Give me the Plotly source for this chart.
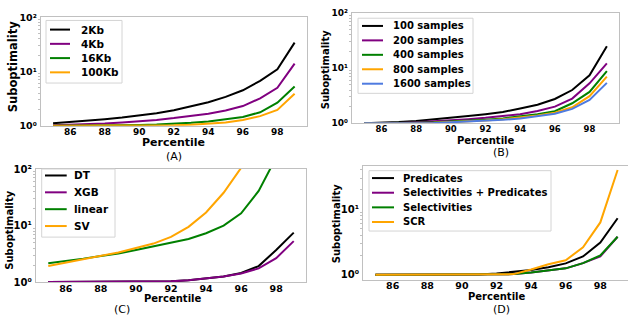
import plotly.graph_objects as go

# ---------------- data ----------------
percentile = [85, 86, 87, 88, 89, 90, 91, 92, 93, 94, 95, 96, 97, 98, 99]
x_ticks = [86, 88, 90, 92, 94, 96, 98]
y_ticks = [1, 10, 100]
y_tick_text = ["10⁰", "10¹", "10²"]

# (A) sample budget
a_names = ["2Kb", "4Kb", "16Kb", "100Kb"]
a_2kb = [1.11, 1.17, 1.24, 1.32, 1.42, 1.55, 1.7, 1.93, 2.25, 2.7, 3.4, 4.5, 6.7, 11, 34]
a_4kb = [1.02, 1.04, 1.07, 1.1, 1.15, 1.2, 1.28, 1.38, 1.5, 1.66, 1.9, 2.3, 3.2, 5.0, 14]
a_16kb = [1.0, 1.0, 1.0, 1.01, 1.02, 1.03, 1.05, 1.08, 1.13, 1.2, 1.3, 1.45, 1.77, 2.65, 5.3]
a_100kb = [1.0, 1.0, 1.0, 1.0, 1.0, 1.0, 1.0, 1.02, 1.04, 1.08, 1.15, 1.27, 1.5, 1.95, 3.9]

# (B) number of samples
b_names = ["100 samples", "200 samples", "400 samples", "800 samples", "1600 samples"]
b_100 = [1.0, 1.02, 1.05, 1.1, 1.17, 1.25, 1.35, 1.46, 1.6, 1.85, 2.17, 2.75, 4.0, 7.4, 25]
b_200 = [1.0, 1.0, 1.01, 1.04, 1.08, 1.12, 1.18, 1.25, 1.33, 1.45, 1.66, 2.0, 2.8, 5.3, 12.2]
b_400 = [1.0, 1.0, 1.0, 1.02, 1.04, 1.07, 1.11, 1.16, 1.22, 1.32, 1.45, 1.65, 2.3, 3.7, 8.8]
b_800 = [1.0, 1.0, 1.0, 1.01, 1.02, 1.05, 1.08, 1.12, 1.18, 1.27, 1.38, 1.55, 1.95, 3.1, 7.0]
b_1600 = [1.0, 1.0, 1.0, 1.0, 1.01, 1.04, 1.07, 1.1, 1.15, 1.22, 1.33, 1.48, 1.82, 2.65, 5.4]

# (C) model type
c_names = ["DT", "XGB", "linear", "SV"]
c_dt = [1.0, 1.0, 1.0, 1.0, 1.0, 1.0, 1.01, 1.03, 1.08, 1.15, 1.25, 1.45, 1.92, 3.7, 7.5]
c_xgb = [1.0, 1.0, 1.0, 1.0, 1.0, 1.0, 1.01, 1.03, 1.08, 1.15, 1.25, 1.42, 1.75, 2.65, 5.3]
c_linear = [2.16, 2.35, 2.6, 2.9, 3.2, 3.7, 4.3, 5.0, 5.8, 7.3, 10, 16.5, 41, 160, 600]
c_sv = [1.92, 2.2, 2.5, 2.9, 3.35, 4.0, 4.8, 6.3, 9.5, 17, 38, 105, 400, 1500, 5000]

# (D) features
d_names = ["Predicates", "Selectivities + Predicates", "Selectivities", "SCR"]
d_pred = [1.0, 1.0, 1.0, 1.0, 1.0, 1.0, 1.01, 1.04, 1.1, 1.18, 1.3, 1.49, 1.9, 3.1, 7.3]
d_selpred = [1.0, 1.0, 1.0, 1.0, 1.0, 1.0, 1.0, 1.0, 1.02, 1.08, 1.15, 1.25, 1.5, 1.9, 3.8]
d_sel = [1.0, 1.0, 1.0, 1.0, 1.0, 1.0, 1.0, 1.0, 1.02, 1.08, 1.15, 1.25, 1.5, 1.97, 3.8]
d_scr = [1.0, 1.0, 1.0, 1.0, 1.0, 1.0, 1.0, 1.0, 1.02, 1.2, 1.44, 1.66, 2.63, 6.3, 40]

panel_labels = ["(A)", "(B)", "(C)", "(D)"]
x_title = "Percentile"
y_title = "Suboptimality"

# ---------------- styling ----------------
W, H = 628, 324
BLACK, PURPLE, GREEN, ORANGE, BLUE = "#000000", "#800080", "#008000", "#FFA500", "#4F7BE0"
SPINE = "#c0c0c0"
FONT = "DejaVu Sans"


def fx(p):
    return p / W


def fy(p):
    return 1 - p / H


panels = [
    dict(series=[a_2kb, a_4kb, a_16kb, a_100kb], names=a_names,
         colors=[BLACK, PURPLE, GREEN, ORANGE],
         box=(41, 306.7, 11.7, 124.3), xr=[84.3, 99.7], yr=[0, 2], tick=9,
         xtitle=(173, 142, 11), ytitle=(13.3, 63.3, 11.5), plabel=(173.5, 156.5),
         leg=dict(box=(46, 122, 15, 80), hx=(50, 70), tx=80, y0=24.5, dy=14.8, fs=10.5)),
    dict(series=[b_100, b_200, b_400, b_800, b_1600], names=b_names,
         colors=[BLACK, PURPLE, GREEN, ORANGE, BLUE],
         box=(352, 619, 7.3, 121.7), xr=[84.3, 99.7], yr=[0, 2], tick=8.5,
         xtitle=(486, 139.5, 10), ytitle=(325.7, 66, 10), plabel=(500.7, 152),
         leg=dict(box=(358, 473, 12.7, 90.7), hx=(362, 383), tx=391.7, y0=20.7, dy=15, fs=10)),
    dict(series=[c_dt, c_xgb, c_linear, c_sv], names=c_names,
         colors=[BLACK, PURPLE, GREEN, ORANGE],
         box=(36, 306, 169.3, 286.7), xr=[84.3, 99.7], yr=[0, 2], tick=9.5,
         xtitle=(172.5, 304, 10), ytitle=(9.3, 232, 10), plabel=(121.7, 315.5),
         leg=dict(box=(41.7, 115, 169.3, 240), hx=(45, 66.7), tx=72.7, y0=176, dy=17.5, fs=10.5)),
    dict(series=[d_pred, d_selpred, d_sel, d_scr], names=d_names,
         colors=[BLACK, PURPLE, GREEN, ORANGE],
         box=(363.3, 628, 166, 284.3), xr=[84.3, 99.6], yr=[-0.078, 1.665], tick=9.5,
         xtitle=(496.8, 302, 10), ytitle=(337.3, 225.3, 10), plabel=(501.7, 315.5),
         leg=dict(box=(369, 551, 171, 233.7), hx=(372, 394), tx=402.3, y0=178.7, dy=15.2, fs=10)),
]

fig = go.Figure()
shapes = []
annotations = []
layout = {}

for i, p in enumerate(panels):
    k = "" if i == 0 else str(i + 1)
    xa, ya = "x" + k, "y" + k
    for vals, name, col in zip(p["series"], p["names"], p["colors"]):
        fig.add_trace(go.Scatter(x=percentile, y=vals, mode="lines", name=name,
                                 line=dict(color=col, width=2), xaxis=xa, yaxis=ya,
                                 showlegend=False, hoverinfo="skip"))
    l, r, t, b = p["box"]
    layout["xaxis" + k] = dict(
        domain=[fx(l), min(fx(r), 1)], range=p["xr"], anchor=ya,
        showline=True, linecolor=SPINE, linewidth=1.2, mirror=True,
        showgrid=False, zeroline=False, tickmode="array", tickvals=x_ticks,
        ticks="", ticklabelstandoff=-3,
        tickfont=dict(family=FONT, size=p["tick"], color="#000", weight="bold"))
    layout["yaxis" + k] = dict(
        domain=[fy(b), fy(t)], type="log", range=p["yr"], anchor=xa,
        showline=True, linecolor=SPINE, linewidth=1.2, mirror=(i != 3),
        showgrid=False, zeroline=False, tickmode="array", tickvals=y_ticks,
        ticktext=y_tick_text, ticks="outside", ticklen=1, tickcolor="rgba(0,0,0,0)",
        tickfont=dict(family=FONT, size=p["tick"] + 0.5, color="#000", weight="bold"),
        minor=dict(tickvals=[2, 3, 4, 5, 6, 7, 8, 9, 20, 30, 40, 50, 60, 70, 80, 90],
                   ticks="outside", ticklen=2, tickcolor="#b0b0b0", tickwidth=0.8,
                   showgrid=False))
    # titles
    xt = p["xtitle"]
    annotations.append(dict(text=x_title, x=fx(xt[0]), y=fy(xt[1]),
                            xref="paper", yref="paper", showarrow=False, borderpad=0,
                            xanchor="center", yanchor="middle",
                            font=dict(family=FONT, size=xt[2], color="#000", weight="bold")))
    yt = p["ytitle"]
    annotations.append(dict(text=y_title, x=fx(yt[0]), y=fy(yt[1]),
                            xref="paper", yref="paper", showarrow=False, textangle=-90,
                            xanchor="center", yanchor="middle", borderpad=0,
                            font=dict(family=FONT, size=yt[2], color="#000", weight="bold")))
    pl = p["plabel"]
    annotations.append(dict(text=panel_labels[i], x=fx(pl[0]), y=fy(pl[1]),
                            xref="paper", yref="paper", showarrow=False, borderpad=0,
                            xanchor="center", yanchor="middle",
                            font=dict(family=FONT, size=11, color="#000")))
    # legend
    lg = p["leg"]
    bl, br, bt, bb = lg["box"]
    shapes.append(dict(type="rect", xref="paper", yref="paper",
                       x0=fx(bl), x1=fx(br), y0=fy(bb), y1=fy(bt),
                       line=dict(color="#d4d4d4", width=1),
                       fillcolor="rgba(255,255,255,0.85)", layer="above"))
    for j, (name, col) in enumerate(zip(p["names"], p["colors"])):
        yy = lg["y0"] + j * lg["dy"]
        shapes.append(dict(type="line", xref="paper", yref="paper",
                           x0=fx(lg["hx"][0]), x1=fx(lg["hx"][1]), y0=fy(yy), y1=fy(yy),
                           line=dict(color=col, width=2), layer="above"))
        annotations.append(dict(text=name, x=fx(lg["tx"]), y=fy(yy),
                                xref="paper", yref="paper", showarrow=False,
                                xanchor="left", yanchor="middle", borderpad=0,
                                font=dict(family=FONT, size=lg["fs"], color="#000",
                                          weight="bold")))

fig.update_layout(width=W, height=H, margin=dict(l=0, r=0, t=0, b=0),
                  paper_bgcolor="white", plot_bgcolor="white", showlegend=False,
                  hovermode=False, shapes=shapes, annotations=annotations, **layout)
fig.write_html("out.html", config={"displayModeBar": False, "staticPlot": True},
               post_script="document.body.style.margin='0px';"
                           "document.body.style.padding='0px';"
                           "document.documentElement.style.overflow='hidden';")
